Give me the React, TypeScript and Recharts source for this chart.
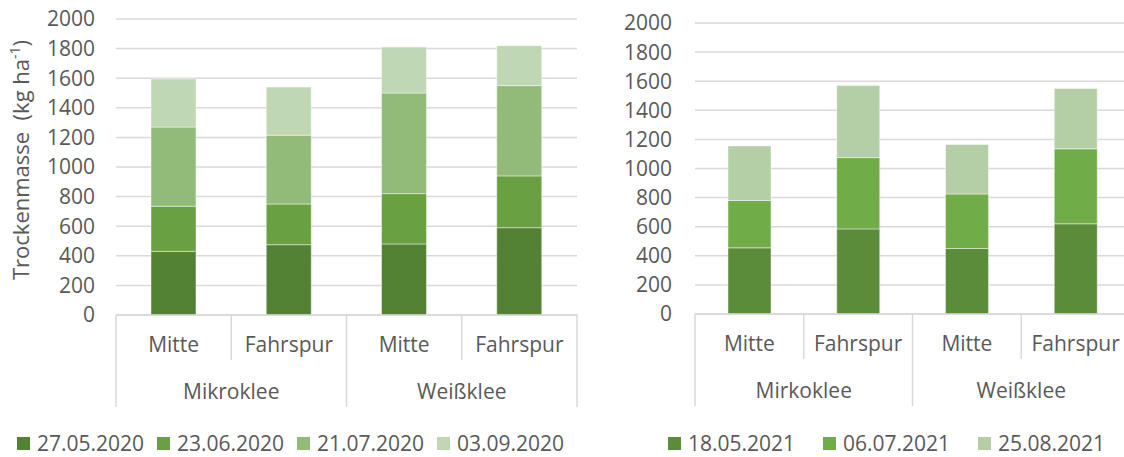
import { Bar, BarChart, CartesianGrid, Legend, XAxis, YAxis } from "recharts"

const positions = ["Mitte", "Fahrspur", "Mitte", "Fahrspur"]
const groups2020 = ["Mikroklee", "Mikroklee", "Weißklee", "Weißklee"]
const groups2021 = ["Mirkoklee", "Mirkoklee", "Weißklee", "Weißklee"]

const dates2020 = ["27.05.2020", "23.06.2020", "21.07.2020", "03.09.2020"]
const cutA2020 = [430, 475, 480, 590]
const cutB2020 = [305, 275, 340, 350]
const cutC2020 = [535, 465, 680, 610]
const cutD2020 = [325, 325, 310, 270]

const dates2021 = ["18.05.2021", "06.07.2021", "25.08.2021"]
const cutA2021 = [455, 585, 450, 620]
const cutB2021 = [325, 490, 375, 515]
const cutC2021 = [375, 495, 340, 415]

const yTicks = [0, 200, 400, 600, 800, 1000, 1200, 1400, 1600, 1800, 2000]

const colors2020 = ["#548235", "#69a041", "#92bb7a", "#c0d7b4"]
const colors2021 = ["#5a8c3a", "#70ad47", "#b4cea6"]

const font = "'Open Sans', sans-serif"
const textColor = "#595959"
const gridColor = "#d9d9d9"

const rows2020 = positions.map((pos, i) => ({
	pos,
	group: groups2020[i],
	[dates2020[0]]: cutA2020[i],
	[dates2020[1]]: cutB2020[i],
	[dates2020[2]]: cutC2020[i],
	[dates2020[3]]: cutD2020[i],
}))

const rows2021 = positions.map((pos, i) => ({
	pos,
	group: groups2021[i],
	[dates2021[0]]: cutA2021[i],
	[dates2021[1]]: cutB2021[i],
	[dates2021[2]]: cutC2021[i],
}))

function CategoryTick(props: any) {
	const { x, y, payload, groups, band } = props
	const i = props.index ?? payload.index
	const left = x - band / 2
	return (
		<g>
			<line x1={left} y1={y} x2={left} y2={y + (i % 2 === 0 ? 92 : 45)} stroke={gridColor} strokeWidth={1.5} />
			{i === groups.length - 1 && (
				<line x1={x + band / 2} y1={y} x2={x + band / 2} y2={y + 92} stroke={gridColor} strokeWidth={1.5} />
			)}
			<text x={x} y={y + 37} textAnchor="middle" fill={textColor} fontSize={21} fontFamily={font}>
				{payload.value}
			</text>
			{i % 2 === 1 && (
				<text x={left} y={y + 84} textAnchor="middle" fill={textColor} fontSize={21} fontFamily={font}>
					{groups[i]}
				</text>
			)}
		</g>
	)
}

function legendContent(names: string[], start: number, pitch: number) {
	return ({ payload }: any) => {
		const items = names.map((n) => (payload || []).find((p: any) => p.value === n)).filter(Boolean)
		return (
			<div style={{ position: "relative", height: 26, fontFamily: font, fontSize: 21, color: textColor }}>
				{items.map((p: any, i: number) => (
					<div
						key={p.value}
						style={{
							position: "absolute",
							left: start + i * pitch,
							top: 0,
							height: 26,
							display: "flex",
							alignItems: "center",
							whiteSpace: "nowrap",
						}}
					>
						<span style={{ width: 13, height: 13, background: p.color, marginRight: 7 }} />
						<span>{p.value}</span>
					</div>
				))}
			</div>
		)
	}
}

function YLabel() {
	return (
		<text
			x={29}
			y={160}
			transform="rotate(-90, 29, 160)"
			textAnchor="middle"
			fill={textColor}
			fontSize={22}
			fontFamily={font}
			style={{ whiteSpace: "pre" }}
		>
			{"Trockenmasse  (kg ha"}
			<tspan fontSize={14} dy={-9}>-1</tspan>
			<tspan dy={9}>)</tspan>
		</text>
	)
}

interface PanelProps {
	rows: any[]
	names: string[]
	colors: string[]
	groups: string[]
	width: number
	yWidth: number
	tickMargin: number
	top: number
	right: number
	bottom: number
	barSize: number
	legendStart: number
	legendPitch: number
	withLabel?: boolean
}

function Panel(p: PanelProps) {
	const band = (p.width - p.right - p.yWidth) / p.rows.length
	return (
		<BarChart
			width={p.width}
			height={457}
			data={p.rows}
			margin={{ top: p.top, right: p.right, bottom: p.bottom, left: 0 }}
		>
			<CartesianGrid vertical={false} stroke={gridColor} strokeWidth={1.5} />
			<XAxis
				dataKey="pos"
				interval={0}
				height={100}
				tickLine={false}
				tickSize={0}
				tickMargin={0}
				axisLine={{ stroke: gridColor, strokeWidth: 1.5 }}
				tick={<CategoryTick groups={p.groups} band={band} />}
			/>
			<YAxis
				width={p.yWidth}
				domain={[0, 2000]}
				ticks={yTicks}
				interval={0}
				tickLine={false}
				axisLine={false}
				tickMargin={p.tickMargin}
				tick={{ fill: textColor, fontSize: 21, fontFamily: font }}
				label={p.withLabel ? { content: () => <YLabel /> } : undefined}
			/>
			<Legend
				layout="vertical"
				align="center"
				verticalAlign="middle"
				wrapperStyle={{ left: 0, top: 430, width: p.width }}
				content={legendContent(p.names, p.legendStart, p.legendPitch)}
			/>
			{p.names.map((n, i) => (
				<Bar
					key={n}
					dataKey={n}
					name={n}
					stackId="a"
					fill={p.colors[i]}
					barSize={p.barSize}
					stroke="rgba(255,255,255,0.45)"
					strokeWidth={1}
					isAnimationActive={false}
				/>
			))}
		</BarChart>
	)
}

export default function App() {
	return (
		<div
			style={{
				position: "absolute",
				left: 0,
				top: 0,
				width: 1124,
				height: 457,
				overflow: "hidden",
				background: "#fff",
			}}
		>
			<div style={{ position: "absolute", left: 0, top: 0 }}>
				<Panel
					rows={rows2020}
					names={dates2020}
					colors={colors2020}
					groups={groups2020}
					width={600}
					yWidth={116}
					tickMargin={15}
					top={19}
					right={23}
					bottom={42}
					barSize={45}
					legendStart={17}
					legendPitch={140}
					withLabel
				/>
			</div>
			<div style={{ position: "absolute", left: 600, top: 0 }}>
				<Panel
					rows={rows2021}
					names={dates2021}
					colors={colors2021}
					groups={groups2021}
					width={530}
					yWidth={95}
					tickMargin={17}
					top={23}
					right={0}
					bottom={43}
					barSize={43}
					legendStart={68}
					legendPitch={155}
				/>
			</div>
		</div>
	)
}
